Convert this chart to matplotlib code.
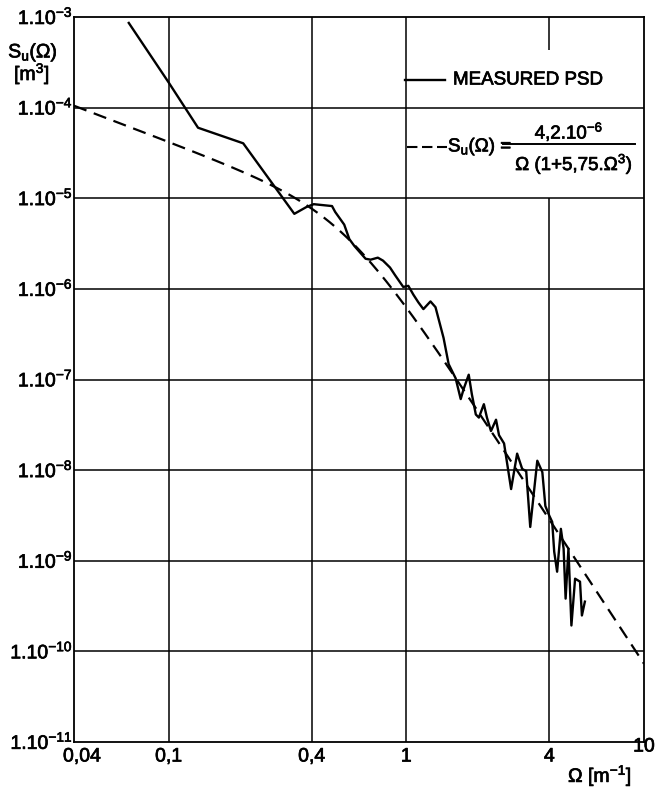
import numpy as np
import matplotlib
matplotlib.use('Agg')
import matplotlib.pyplot as plt
import matplotlib.patheffects as pe
from matplotlib.transforms import blended_transform_factory, offset_copy

plt.rcParams['font.family'] = ['Liberation Sans', 'DejaVu Sans']
plt.rcParams['mathtext.fontset'] = 'custom'
plt.rcParams['mathtext.rm'] = 'Liberation Sans'
plt.rcParams['mathtext.it'] = 'Liberation Sans'
plt.rcParams['mathtext.bf'] = 'Liberation Sans:bold'

# measured PSD
omega_meas = [0.068, 0.1, 0.133, 0.206, 0.338, 0.380, 0.408, 0.487, 0.502, 0.548,
              0.576, 0.605, 0.674, 0.708, 0.759, 0.798, 0.854, 0.898, 0.971, 1.02,
              1.071, 1.124, 1.18, 1.264, 1.327, 1.435, 1.507, 1.613, 1.694, 1.744,
              1.831, 1.886, 1.961, 2.02, 2.12, 2.184, 2.271, 2.385, 2.455, 2.578,
              2.76, 2.926, 3.073, 3.195, 3.322, 3.454, 3.557, 3.735, 3.846, 4.0,
              4.11, 4.19, 4.31, 4.47, 4.59, 4.68, 4.81, 4.95, 5.13, 5.38,
              5.48, 5.64]
psd_meas = [8.6e-4, 1.9e-4, 6.0e-5, 4.04e-5, 6.73e-6, 8.0e-6, 8.6e-6, 8.2e-6, 7.07e-6, 5.12e-6,
            3.54e-6, 2.97e-6, 2.15e-6, 2.10e-6, 2.21e-6, 2.05e-6, 1.72e-6, 1.41e-6, 1.05e-6, 1.08e-6,
            8.63e-7, 7.10e-7, 5.98e-7, 7.27e-7, 6.28e-7, 2.87e-7, 1.48e-7, 1.03e-7, 6.08e-8, 7.9e-8,
            1.13e-7, 6.93e-8, 4.11e-8, 3.80e-8, 5.34e-8, 3.80e-8, 2.70e-8, 3.60e-8, 2.43e-8, 1.97e-8,
            6.18e-9, 1.52e-8, 1.03e-8, 9.75e-9, 2.36e-9, 6.18e-9, 1.27e-8, 9.5e-9, 4.02e-9, 3.12e-9,
            2.68e-9, 1.26e-9, 7.57e-10, 2.25e-9, 1.36e-9, 3.82e-10, 1.36e-9, 1.93e-10, 6.34e-10, 5.88e-10,
            2.49e-10, 3.54e-10]

# fitted model from the legend: S = A / (W (1 + B W^3))
A = 4.2e-6
B = 5.75
omega_fit = np.logspace(np.log10(0.04), 1, 300)
psd_fit = A / (omega_fit * (1 + B * omega_fit ** 3))

x_ticks = [0.04, 0.1, 0.4, 1, 4, 10]
x_labels = ['0,04', '0,1', '0,4', '1', '4', '10']
y_exps = [-3, -4, -5, -6, -7, -8, -9, -10, -11]

# slightly heavier text, like the scanned original
heavy = [pe.withStroke(linewidth=0.5, foreground='black')]

W, H = 656, 793
fig = plt.figure(figsize=(W / 100, H / 100), dpi=100)
ax = fig.add_axes([74 / W, 51 / H, 570 / W, 725 / H])
ax.set_xscale('log')
ax.set_yscale('log')
ax.set_xlim(0.04, 10)
ax.set_ylim(1e-11, 1e-3)
ax.tick_params(which='both', left=False, bottom=False, labelleft=False, labelbottom=False)
for s in ax.spines.values():
    s.set_linewidth(1.3)

# grid (x=4 line is broken behind the legend)
for e in y_exps[1:-1]:
    ax.axhline(10.0 ** e, color='black', lw=1.1, zorder=1)
for xv in [0.1, 0.4, 1]:
    ax.axvline(xv, color='black', lw=1.1, zorder=1)
ax.vlines(4, 1e-11, 1e-5, color='black', lw=1.1, zorder=1)
ax.vlines(4, 4.3e-4, 1e-3, color='black', lw=1.1, zorder=1)

ax.plot(omega_fit, psd_fit, color='black', lw=1.6, dashes=(6, 3.5), zorder=3)
ax.plot(omega_meas, psd_meas, color='black', lw=1.7, zorder=4)

# tick labels
ytr = blended_transform_factory(ax.transAxes, ax.transData)
for e in y_exps:
    ax.text(0, 10.0 ** e, '1.10$^{%d}$' % e, ha='right', va='baseline', fontsize=14,
            path_effects=heavy, transform=offset_copy(ytr, fig, x=-1, y=-7, units='dots'))
xtr = blended_transform_factory(ax.transData, ax.transAxes)
for xv, lab in zip(x_ticks, x_labels):
    dx, dy = 0, -15
    if lab == '0,04':
        dx = 8
    if lab == '10':
        dx, dy = 0, -5
    ax.text(xv, 0, lab, ha='center', va='center', fontsize=14, path_effects=heavy,
            transform=offset_copy(xtr, fig, x=dx, y=dy, units='dots'))

# axis titles
fig.text(33 / W, 1 - 53 / H, 'S$_u$(Ω)', ha='center', va='center', fontsize=14,
         path_effects=heavy)
fig.text(32 / W, 1 - 74 / H, '[m$^3$]', ha='center', va='center', fontsize=14, path_effects=heavy)
fig.text(600 / W, 1 - 776 / H, 'Ω [m$^{-1}$]', ha='center', va='center',
         fontsize=14, path_effects=heavy)

# legend
def fx(px):
    return (px - 74) / 570

def fy(py):
    return (742 - py) / 725

ax.plot([fx(405), fx(445)], [fy(80), fy(80)], color='black', lw=1.7, transform=ax.transAxes)
ax.text(fx(453), fy(80), 'MEASURED PSD', ha='left', va='center', fontsize=13.5,
        path_effects=heavy, transform=ax.transAxes)
ax.plot([fx(407), fx(447)], [fy(147), fy(147)], color='black', lw=1.5, dashes=(5, 2.2),
        transform=ax.transAxes)
ax.text(fx(448), fy(147), 'S$_u$(Ω) =', ha='left', va='center', fontsize=13.5,
        path_effects=heavy, transform=ax.transAxes)
ax.plot([fx(503), fx(635)], [fy(144), fy(144)], color='black', lw=1.4, transform=ax.transAxes)
ax.text(fx(569), fy(132), '4,2.10$^{-6}$', ha='center', va='center', fontsize=13.5,
        path_effects=heavy, transform=ax.transAxes)
ax.text(fx(574), fy(164), 'Ω (1+5,75.Ω$^3$)', ha='center', va='center',
        fontsize=13.5, path_effects=heavy, transform=ax.transAxes)

fig.savefig('out.png', dpi=100)
